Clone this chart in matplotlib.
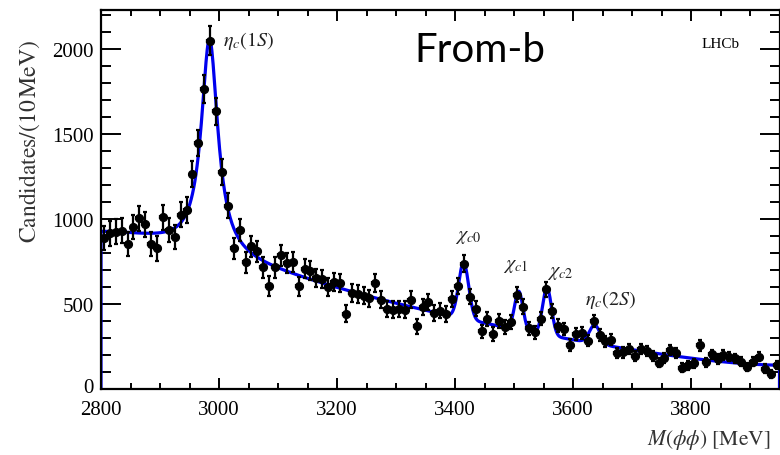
import numpy as np
import matplotlib
matplotlib.use("Agg")
import matplotlib.pyplot as plt
from matplotlib.ticker import MultipleLocator
from matplotlib.transforms import ScaledTranslation

plt.rcParams['mathtext.fontset'] = 'stix'
plt.rcParams['font.family'] = ['Liberation Serif', 'DejaVu Serif']

# ---------------- data ----------------
bin_width = 10.0          # MeV
mass_lo, mass_hi = 2800.0, 3950.0
bin_centres = np.arange(mass_lo + bin_width / 2, mass_hi, bin_width)

candidates = [
    886, 915, 925, 931, 853, 953, 1004, 967, 853, 827,      # 2805-2895
    1010, 935, 892, 1023, 1052, 1261, 1446, 1765, 2047, 1631,  # 2905-2995
    1275, 1078, 826, 936, 745, 838, 808, 715, 605, 714,     # 3005-3095
    785, 740, 745, 604, 706, 696, 653, 647, 598, 627,       # 3105-3195
    624, 441, 565, 559, 549, 533, 624, 525, 471, 467,       # 3205-3295
    471, 467, 525, 369, 480, 510, 447, 461, 441, 529,       # 3305-3395
    605, 737, 543, 471, 339, 412, 324, 402, 363, 392,       # 3405-3495
    555, 484, 357, 333, 414, 585, 459, 373, 353, 258,       # 3505-3595
    325, 330, 284, 400, 318, 280, 290, 212, 215, 235,       # 3605-3695
    192, 233, 225, 193, 155, 182, 230, 210, 126, 140,       # 3705-3795
    150, 256, 156, 204, 176, 200, 190, 180, 160, 130,       # 3805-3895
    160, 190, 120, 90, 140,                                 # 3905-3945
]
errors = [
    72, 72, 72, 72, 72, 72, 73, 72, 72, 72,
    73, 72, 72, 73, 74, 76, 78, 82, 84, 80,
    76, 72, 64, 64, 62, 62, 62, 60, 58, 60,
    60, 58, 58, 56, 56, 56, 55, 55, 54, 54,
    54, 50, 52, 52, 50, 50, 52, 50, 48, 48,
    48, 48, 48, 45, 47, 47, 46, 46, 45, 46,
    46, 48, 45, 44, 40, 42, 40, 41, 40, 41,
    43, 42, 39, 38, 40, 42, 39, 37, 36, 33,
    35, 35, 34, 36, 34, 33, 33, 30, 30, 31,
    29, 30, 30, 29, 28, 28, 30, 29, 26, 27,
    27, 30, 27, 28, 28, 28, 28, 27, 26, 25,
    26, 27, 25, 24, 25,
]

# fit model: polynomial background + resonances (fixed mass / width)
peak_labels = [r'$\eta_c(1S)$', r'$\chi_{c0}$', r'$\chi_{c1}$', r'$\chi_{c2}$', r'$\eta_c(2S)$']
peak_mass = [2984.0, 3414.7, 3508.0, 3556.0, 3637.0]
peak_width = [17.0, 8.5, 7.0, 7.5, 9.0]
peak_shape = ['bw', 'gauss', 'gauss', 'gauss', 'gauss']
bkg_degree = 5

# ---------------- fit ----------------
y = np.asarray(candidates, float)
ey = np.asarray(errors, float)
x = bin_centres


def design(m):
    u = (m - 0.5 * (mass_lo + mass_hi)) / (0.5 * (mass_hi - mass_lo))
    cols = [np.polynomial.chebyshev.chebval(u, np.eye(bkg_degree + 1)[k])
            for k in range(bkg_degree + 1)]
    for mu, w, s in zip(peak_mass, peak_width, peak_shape):
        if s == 'bw':
            cols.append(w ** 2 / ((m - mu) ** 2 + w ** 2))
        else:
            cols.append(np.exp(-0.5 * ((m - mu) / w) ** 2))
    return np.vstack(cols).T


A = design(x)
coef, *_ = np.linalg.lstsq(A / ey[:, None], y / ey, rcond=None)
mfine = np.linspace(mass_lo, mass_hi, 1151)
fit = design(mfine) @ coef
curve_x = np.concatenate([[mass_lo], mfine, [mass_hi]])
curve_y = np.concatenate([[0.0], fit, [0.0]])

# ---------------- plot ----------------
W, H = 780, 456
fig = plt.figure(figsize=(W / 100, H / 100), dpi=100)
ax = fig.add_axes([101 / W, (H - 390) / H, (779.5 - 101) / W, (390 - 10.5) / H])

ax.plot(curve_x, curve_y, color='#0000ee', lw=2.3, zorder=2, clip_on=True)
ax.errorbar(x, y, yerr=ey, xerr=bin_width / 2, fmt='o', color='black',
            ms=5.6, elinewidth=1.6, capsize=1.4, capthick=1.6, zorder=3)

ax.set_xlim(mass_lo, mass_hi)
ax.set_ylim(0, 2230)

ax.xaxis.set_major_locator(MultipleLocator(200))
ax.xaxis.set_minor_locator(MultipleLocator(50))
ax.yaxis.set_major_locator(MultipleLocator(500))
ax.yaxis.set_minor_locator(MultipleLocator(100))
ax.tick_params(axis='both', which='both', direction='in', top=True, right=True,
               width=1.4, labelsize=15)
ax.tick_params(axis='x', which='major', length=8, pad=8)
ax.tick_params(axis='x', which='minor', length=4)
ax.tick_params(axis='y', which='major', length=14.5, pad=5)
ax.tick_params(axis='y', which='minor', length=7.2)
for sp in ax.spines.values():
    sp.set_linewidth(1.6)
    sp.set_zorder(5)

fig.canvas.draw()
# lift the "0" label slightly, as in the reference
for lbl in ax.get_yticklabels():
    if lbl.get_text() in ('0', '$\\mathdefault{0}$'):
        lbl.set_transform(lbl.get_transform() + ScaledTranslation(0, 3 / 72, fig.dpi_scale_trans))

# peak annotations
label_pos = [(3051, 2053), (3422, 900), (3502, 729), (3578, 688), (3664, 529)]
for lab, (lx, ly) in zip(peak_labels, label_pos):
    ax.text(lx, ly, lab, fontsize=14.5, ha='center', va='center', color='#222222')

ax.text(3851, 2030, 'LHCb', fontsize=11, ha='center', va='center',
        family='Liberation Serif')
fig.text(480 / W, 1 - 50 / H, 'From-b', fontsize=29, ha='center', va='center',
         family=['Lato', 'DejaVu Sans'])

fig.text(30 / W, 1 - 40 / H, r'$\mathrm{Candidates}/(10\,\mathrm{MeV})$', rotation=90,
         ha='center', va='top', fontsize=17, color='#333333')
fig.text(770 / W, 1 - 440 / H, r'$M(\phi\phi)\ [\mathrm{MeV}]$', ha='right', va='center',
         fontsize=15.5, color='#333333')

fig.savefig('out.png', dpi=100)
